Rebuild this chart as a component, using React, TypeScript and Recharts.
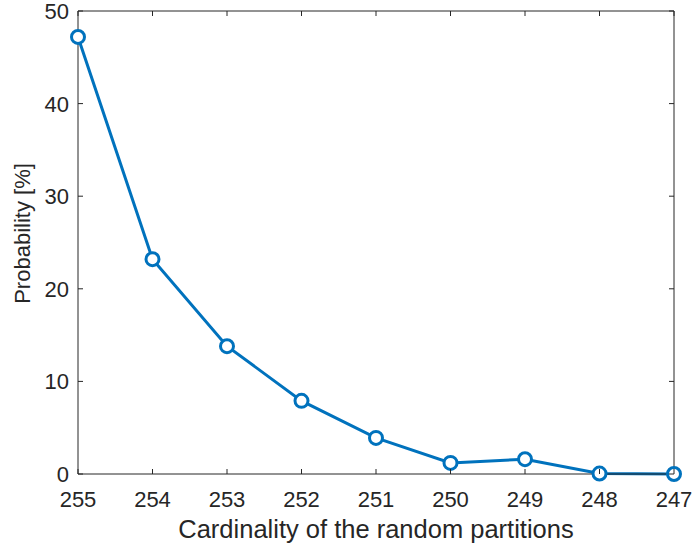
import { LineChart, Line, XAxis, YAxis, ReferenceLine } from "recharts";

const cardinality = [255, 254, 253, 252, 251, 250, 249, 248, 247];
const probability = [47.2, 23.2, 13.8, 7.9, 3.9, 1.2, 1.6, 0.05, 0.0];
const yTicks = [0, 10, 20, 30, 40, 50];

const data = cardinality.map((c, i) => ({ c, p: probability[i] }));

const W = 692;
const H = 547;
const LEFT = 78;
const RIGHT = 674;
const TOP = 11;
const BOTTOM = 474;
const INK = "#262626";
const BLUE = "#0072BD";
const FONT = "'Liberation Sans', Arial, Helvetica, sans-serif";

const XTick = (p: any) => {
  const x = p.payload.coordinate;
  return (
    <g>
      <line x1={x} x2={x} y1={BOTTOM} y2={BOTTOM - 5} stroke={INK} />
      <line x1={x} x2={x} y1={TOP} y2={TOP + 5} stroke={INK} />
      <text x={x} y={507} textAnchor="middle" fill={INK} fontSize={22} fontFamily={FONT}>
        {p.payload.value}
      </text>
    </g>
  );
};

const YTick = (p: any) => {
  const y = p.payload.coordinate;
  return (
    <g>
      <line x1={LEFT} x2={LEFT + 5} y1={y} y2={y} stroke={INK} />
      <line x1={RIGHT} x2={RIGHT - 5} y1={y} y2={y} stroke={INK} />
      <text x={69} y={y + 8} textAnchor="end" fill={INK} fontSize={22} fontFamily={FONT}>
        {p.payload.value}
      </text>
    </g>
  );
};

const XLabel = (p: any) => {
  const vb = p.viewBox;
  return (
    <text x={vb.x + vb.width / 2} y={538} textAnchor="middle" fill={INK} fontSize={25.5} fontFamily={FONT}>
      Cardinality of the random partitions
    </text>
  );
};

const YLabel = (p: any) => {
  const vb = p.viewBox;
  const cy = vb.y + vb.height / 2 - 9;
  return (
    <text x={30} y={cy} transform={`rotate(-90 30 ${cy})`} textAnchor="middle"
      fill={INK} fontSize={22} fontFamily={FONT}>
      Probability [%]
    </text>
  );
};

export default function App() {
  return (
    <div style={{ position: "absolute", left: 0, top: 0, width: W, height: H, background: "#fff" }}>
      <LineChart width={W} height={H} data={data}
        margin={{ top: TOP, right: W - RIGHT, bottom: 0, left: 0 }}>
        <XAxis dataKey="c" type="number" domain={[247, 255]} reversed ticks={cardinality}
          interval={0} height={H - BOTTOM} stroke={INK} tickLine={false} tick={XTick}
          label={{ content: XLabel }} />
        <YAxis type="number" domain={[0, 50]} ticks={yTicks} width={LEFT} stroke={INK}
          tickLine={false} tick={YTick} label={{ content: YLabel }} />
        <ReferenceLine y={50} stroke={INK} />
        <ReferenceLine x={247} stroke={INK} />
        <Line dataKey="p" stroke={BLUE} strokeWidth={3} isAnimationActive={false}
          dot={{ r: 6.5, fill: "#fff", stroke: BLUE, strokeWidth: 3 }} />
      </LineChart>
    </div>
  );
}
